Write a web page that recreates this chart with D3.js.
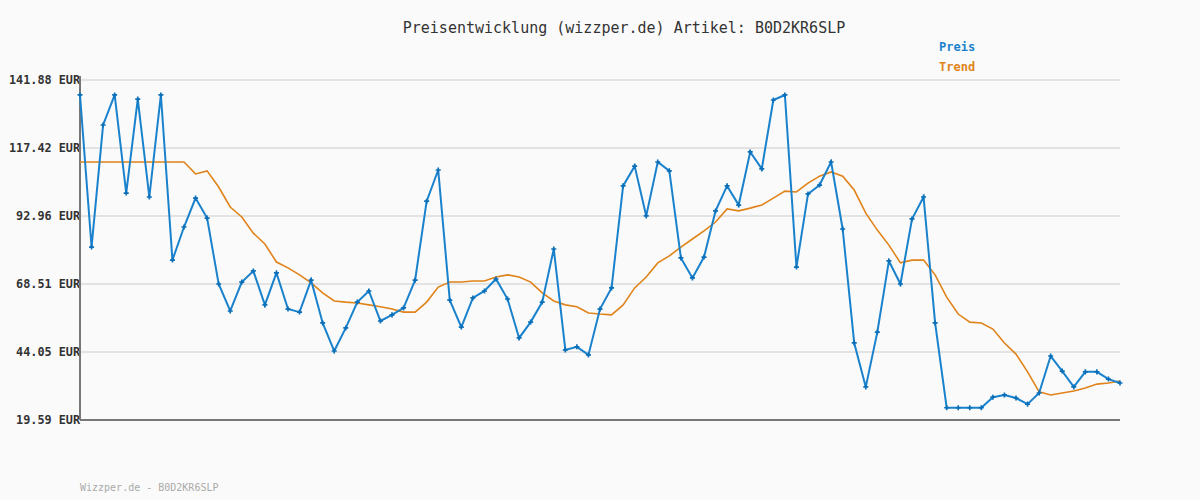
<!DOCTYPE html>
<html><head><meta charset="utf-8">
<script src="https://cdn.jsdelivr.net/npm/d3@7"></script>
<style>body{margin:0;background:#fafafa}svg{display:block}text{font-family:"DejaVu Sans Mono",monospace}</style>
</head><body>
<svg id="chart" width="1200" height="500"></svg>
<script>
const yTicks = [19.59, 44.05, 68.51, 92.96, 117.42, 141.88];
const preis = [136.5,81.8,125.7,136.5,101.2,135.0,99.8,136.5,77.1,89.0,99.4,92.2,68.5,58.8,69.2,73.2,61.0,72.5,59.5,58.4,69.9,54.5,44.4,52.7,62.0,66.0,55.2,57.4,59.9,69.9,98.3,
  109.5,62.7,53.0,63.5,66.0,70.3,63.1,49.1,54.8,62.0,81.1,44.8,45.9,43.0,59.5,67.1,103.8,110.9,93.0,112.4,109.2,77.9,70.7,78.2,94.8,103.8,96.9,116.0,109.9,
  134.7,136.5,74.6,100.9,104.1,112.4,88.3,47.3,31.5,51.2,76.8,68.5,91.9,99.8,54.5,24.0,24.0,24.0,24.0,27.8,28.6,27.5,25.3,29.3,42.6,37.2,31.5,36.9,36.9,34.3,32.9];
const trend = [112.4,112.4,112.4,112.4,112.4,112.4,112.4,112.4,112.4,112.4,108.1,109.2,103.4,96.2,92.6,86.8,82.9,76.4,74.3,71.8,68.9,65.3,62.4,62.0,61.7,61.0,60.3,59.5,58.4,58.4,62.0,
  67.4,69.2,69.2,69.6,69.6,71.0,71.8,71.0,69.2,65.3,62.4,61.0,60.3,58.1,57.7,57.4,61.0,67.1,71.0,76.1,78.6,81.8,84.7,87.6,90.8,95.5,94.8,95.8,96.9,
  99.4,101.9,101.6,104.8,107.3,108.8,107.3,102.3,94.0,87.9,82.5,76.1,77.1,77.1,71.8,63.8,57.7,54.8,54.5,52.3,47.3,43.3,36.9,29.7,28.6,29.3,30.0,31.1,32.5,32.9,33.6];

const svg = d3.select("#chart");
const pLeft = 80, pRight = 1120, pTop = 80, pBottom = 420;
const x = d3.scaleLinear().domain([0, preis.length - 1]).range([pLeft, pRight]);
const y = d3.scaleLinear().domain([19.59, 141.88]).range([pBottom, pTop]);

svg.append("rect").attr("width", 1200).attr("height", 500).attr("fill", "#fafafa");

// grid
svg.append("g").selectAll("line").data(yTicks.slice(1)).join("line")
  .attr("x1", pLeft).attr("x2", pRight).attr("y1", d => y(d)).attr("y2", d => y(d))
  .attr("stroke", "#e3e3e3").attr("stroke-width", 2);

svg.append("g").selectAll("text").data(yTicks).join("text")
  .attr("x", 80).attr("y", d => y(d) + 4).attr("text-anchor", "end")
  .attr("font-size", 11.8).attr("font-weight", "bold").attr("fill", "#333")
  .text(d => d.toFixed(2) + " EUR");

svg.append("line").attr("x1", pLeft).attr("x2", pLeft).attr("y1", pTop - 4).attr("y2", pBottom)
  .attr("stroke", "#777").attr("stroke-width", 2);
svg.append("line").attr("x1", pLeft).attr("x2", pRight).attr("y1", pBottom).attr("y2", pBottom)
  .attr("stroke", "#777").attr("stroke-width", 2);

const line = d3.line().x((d, i) => x(i)).y(d => y(d));
svg.append("path").datum(trend).attr("d", line).attr("fill", "none")
  .attr("stroke", "#e0831a").attr("stroke-width", 1.6);
svg.append("path").datum(preis).attr("d", line).attr("fill", "none")
  .attr("stroke", "#1a82cc").attr("stroke-width", 2);
svg.append("g").selectAll("path").data(preis).join("path")
  .attr("transform", (d, i) => `translate(${x(i)},${y(d)})`)
  .attr("d", d3.symbol(d3.symbolCross, 14)).attr("fill", "#0a6fb8");

svg.append("text").attr("x", 624).attr("y", 33).attr("text-anchor", "middle")
  .attr("font-size", 15).attr("fill", "#333").text("Preisentwicklung (wizzper.de) Artikel: B0D2KR6SLP");
svg.append("text").attr("x", 939).attr("y", 51).attr("font-size", 12).attr("font-weight", "bold")
  .attr("fill", "#1a82cc").text("Preis");
svg.append("text").attr("x", 939).attr("y", 71).attr("font-size", 12).attr("font-weight", "bold")
  .attr("fill", "#e0831a").text("Trend");
svg.append("text").attr("x", 80).attr("y", 491).attr("font-size", 10)
  .attr("fill", "#aaa").text("Wizzper.de - B0D2KR6SLP");
</script>
</body></html>
